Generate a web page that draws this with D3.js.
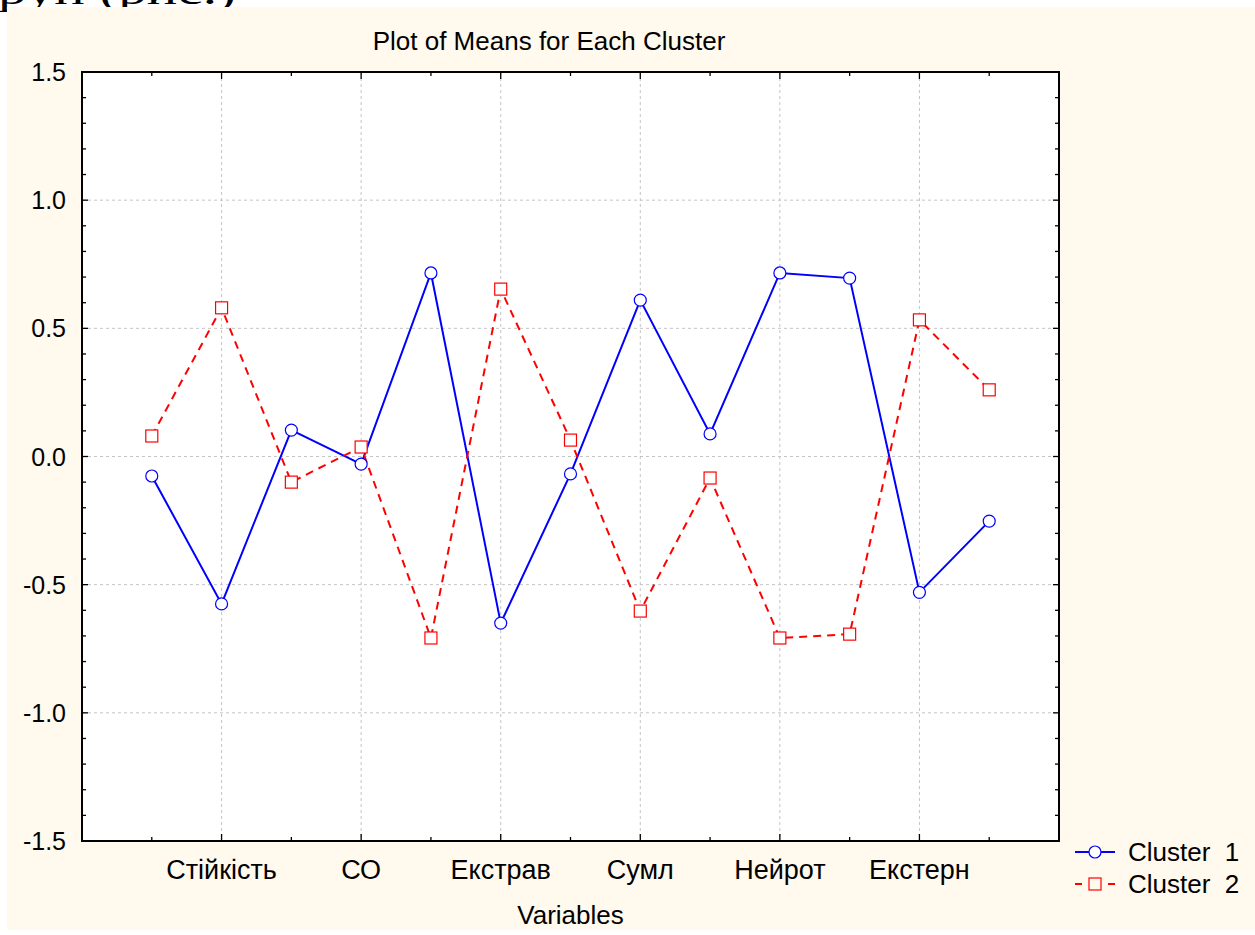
<!DOCTYPE html>
<html>
<head>
<meta charset="utf-8">
<script src="https://cdn.jsdelivr.net/npm/d3@7"></script>
<style>
  body { margin: 0; background: #fff; }
  svg { display: block; }
  text { font-family: "Liberation Sans", Arial, sans-serif; fill: #000; }
</style>
</head>
<body>
<div id="chart"></div>
<script>
const WIDTH = 1255
const HEIGHT = 935

// 13 variables, Statistica only prints every second name
const varIndex = d3.range(1, 14)
const varLabels = ["", "Стійкість", "", "СО", "", "Екстрав", "", "Сумл", "", "Нейрот", "", "Екстерн", ""]
const cluster1 = [-0.076, -0.575, 0.103, -0.03, 0.716, -0.65, -0.068, 0.61, 0.088, 0.716, 0.696, -0.53, -0.252]
const cluster2 = [0.08, 0.58, -0.10, 0.037, -0.708, 0.653, 0.064, -0.603, -0.084, -0.708, -0.693, 0.533, 0.26]
const yTicks = [-1.5, -1.0, -0.5, 0.0, 0.5, 1.0, 1.5]
const seriesNames = ["Cluster  1", "Cluster  2"]

const plot = { left: 82, top: 72, right: 1059, bottom: 841 }

const x = d3.scaleLinear().domain([0, 14]).range([plot.left, plot.right])
const y = d3.scaleLinear().domain([-1.5, 1.5]).range([plot.bottom, plot.top])

const svg = d3.select("#chart")
    .append("svg")
    .attr("width", WIDTH)
    .attr("height", HEIGHT)

// tail of the document line above the picture
svg.append("text")
    .attr("x", -2)
    .attr("y", 4)
    .attr("textLength", 238)
    .attr("lengthAdjust", "spacingAndGlyphs")
    .style("font-family", "'Liberation Serif', 'Times New Roman', serif")
    .style("font-size", "38px")
    .text("руп (рис.)")

// cream panel
svg.append("rect")
    .attr("x", 7).attr("y", 7)
    .attr("width", WIDTH - 7).attr("height", 923)
    .style("fill", "#fff9ee")

svg.append("rect")
    .attr("x", plot.left).attr("y", plot.top)
    .attr("width", plot.right - plot.left).attr("height", plot.bottom - plot.top)
    .style("fill", "#fff")

// grid
const grid = svg.append("g").attr("class", "grid")
grid.selectAll(".hgrid")
    .data(yTicks.filter(d => d > -1.5 && d < 1.5))
    .enter().append("line")
    .attr("x1", plot.left).attr("x2", plot.right)
    .attr("y1", d => y(d)).attr("y2", d => y(d))
grid.selectAll(".vgrid")
    .data(varIndex.filter(i => i % 2 == 0))
    .enter().append("line")
    .attr("x1", d => x(d)).attr("x2", d => x(d))
    .attr("y1", plot.top).attr("y2", plot.bottom)
grid.selectAll("line")
    .style("stroke", "#c4c4c4")
    .style("stroke-width", 1)
    .style("stroke-dasharray", "3,3")

// axes with inward ticks
const yMinor = d3.range(-15, 16).map(d => d / 10)
function drawTicks(g, data, pos, len, dir) {
    g.selectAll(null).data(data).enter().append("line")
        .each(function(d) {
            const p = pos(d)
            d3.select(this).attr("x1", p.x).attr("y1", p.y)
                .attr("x2", p.x + dir[0] * len(d)).attr("y2", p.y + dir[1] * len(d))
        })
        .style("stroke", "#000").style("stroke-width", 1.3)
}
const ticks = svg.append("g")
const isMajorY = d => Math.abs(Math.round(d * 10) % 5) == 0
drawTicks(ticks, yMinor, d => ({x: plot.left, y: y(d)}), d => isMajorY(d) ? 6 : 4, [1, 0])
drawTicks(ticks, yMinor, d => ({x: plot.right, y: y(d)}), d => isMajorY(d) ? 6 : 4, [-1, 0])
drawTicks(ticks, varIndex, d => ({x: x(d), y: plot.bottom}), d => d % 2 == 0 ? 7 : 4, [0, -1])
drawTicks(ticks, varIndex, d => ({x: x(d), y: plot.top}), d => d % 2 == 0 ? 7 : 4, [0, 1])

svg.append("rect")
    .attr("x", plot.left).attr("y", plot.top)
    .attr("width", plot.right - plot.left).attr("height", plot.bottom - plot.top)
    .style("fill", "none")
    .style("stroke", "#000")
    .style("stroke-width", 2)

// tick labels (plain hyphen for minus, as in the original)
svg.append("g").selectAll("text")
    .data(yTicks)
    .enter().append("text")
    .attr("x", 66)
    .attr("y", d => y(d))
    .attr("dy", "0.36em")
    .attr("text-anchor", "end")
    .style("font-size", "25px")
    .text(d => d.toFixed(1))

svg.append("g").selectAll("text")
    .data(varIndex)
    .enter().append("text")
    .attr("x", d => x(d))
    .attr("y", 879)
    .attr("text-anchor", "middle")
    .style("font-size", "27px")
    .text(d => varLabels[d - 1])

svg.append("text")
    .attr("x", 549).attr("y", 50)
    .attr("text-anchor", "middle")
    .style("font-size", "26px")
    .text("Plot of Means for Each Cluster")

svg.append("text")
    .attr("x", (plot.left + plot.right) / 2).attr("y", 924)
    .attr("text-anchor", "middle")
    .style("font-size", "26px")
    .text("Variables")

// series
const line = d3.line().x((d, i) => x(varIndex[i])).y(d => y(d))

svg.append("path")
    .datum(cluster1)
    .attr("d", line)
    .style("fill", "none")
    .style("stroke", "#0000ff")
    .style("stroke-width", 2)

svg.append("path")
    .datum(cluster2)
    .attr("d", line)
    .style("fill", "none")
    .style("stroke", "#ff0000")
    .style("stroke-width", 2)
    .style("stroke-dasharray", "8,6")

svg.append("g").selectAll("circle")
    .data(cluster1)
    .enter().append("circle")
    .attr("cx", (d, i) => x(varIndex[i]))
    .attr("cy", d => y(d))
    .attr("r", 6)
    .style("fill", "#fff")
    .style("stroke", "#0000ff")
    .style("stroke-width", 1.2)

svg.append("g").selectAll("rect")
    .data(cluster2)
    .enter().append("rect")
    .attr("x", (d, i) => x(varIndex[i]) - 6)
    .attr("y", d => y(d) - 6)
    .attr("width", 12).attr("height", 12)
    .style("fill", "#fff")
    .style("stroke", "#ff0000")
    .style("stroke-width", 1.2)

// legend
const legend = svg.append("g")
const ly = [852, 884]
legend.append("line")
    .attr("x1", 1075).attr("x2", 1115).attr("y1", ly[0]).attr("y2", ly[0])
    .style("stroke", "#0000ff").style("stroke-width", 2)
legend.append("circle")
    .attr("cx", 1095).attr("cy", ly[0]).attr("r", 6)
    .style("fill", "#fff").style("stroke", "#0000ff").style("stroke-width", 1.2)
legend.append("line")
    .attr("x1", 1075).attr("x2", 1115).attr("y1", ly[1]).attr("y2", ly[1])
    .style("stroke", "#ff0000").style("stroke-width", 2)
    .style("stroke-dasharray", "7,26")
legend.append("rect")
    .attr("x", 1089).attr("y", ly[1] - 6).attr("width", 12).attr("height", 12)
    .style("fill", "#fff9ee").style("stroke", "#ff0000").style("stroke-width", 1.2)
legend.selectAll("text")
    .data(seriesNames)
    .enter().append("text")
    .attr("x", 1128)
    .attr("y", (d, i) => ly[i])
    .attr("dy", "0.36em")
    .style("font-size", "26px")
    .style("white-space", "pre")
    .text(d => d)
</script>
</body>
</html>
